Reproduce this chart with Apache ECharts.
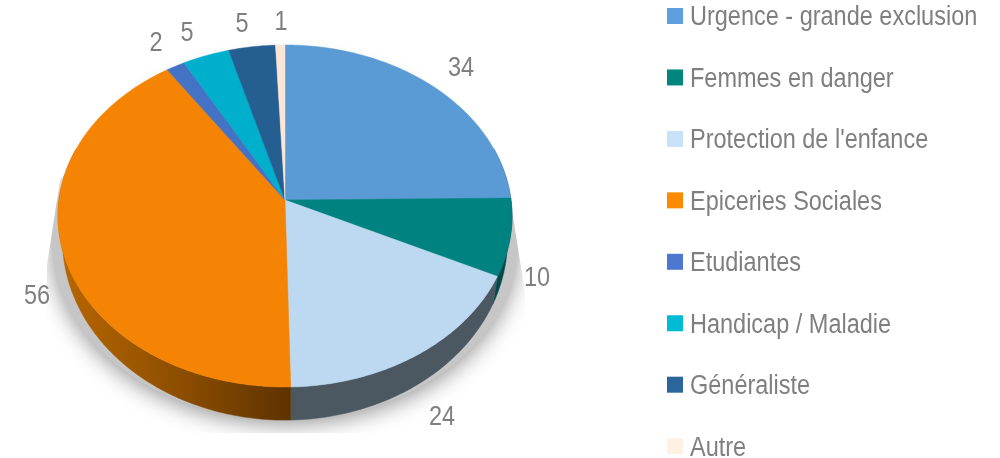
<!DOCTYPE html>
<html>
<head>
<meta charset="utf-8">
<style>html,body{margin:0;padding:0;background:#fff}#chart{width:1000px;height:458px}</style>
<script src="https://cdn.jsdelivr.net/npm/echarts@6/dist/echarts.min.js"></script>
</head>
<body>
<div id="chart"></div>
<script>
var categories = ['Urgence - grande exclusion', 'Femmes en danger', "Protection de l'enfance", 'Epiceries Sociales', 'Etudiantes', 'Handicap / Maladie', 'Généraliste', 'Autre'];
var values = [34, 10, 24, 56, 2, 5, 5, 1];

var sliceColors = ['#5B9BD5', '#008280', '#BDD9F1', '#F58405', '#4472C4', '#00AFCB', '#255E91', '#FBE5D6'];
var legendColors = ['#5F9FE0', '#00857F', '#C6E1F8', '#FB8A00', '#4C78D2', '#00BAD6', '#2A659C', '#FDF1E3'];
var wallColors = ['#2F5D85', '#004A4A', '#4B5862', null, '#2A4475', '#006B7C', '#16395A', '#998A80'];
var labelSpots = [[461, 69], [537, 279], [442, 418], [37, 297], [156, 44], [187, 34], [242, 25], [281, 23]];

var total = values.reduce(function (a, b) { return a + b; }, 0);
var FONT = '"Liberation Sans", Arial, sans-serif';
var SQUEEZE = 0.87; // the original text is a narrow face

// the tilted disc: a circle seen in perspective, apex is not the ellipse centre
var apexX = 285, apexY = 200, rimA = 226, rimB = 169.5, tilt = 0.0935;

function rim(t) {
    var u = Math.sin(t), v = Math.cos(t), d = 1 + tilt * v;
    return [apexX + rimA * u / d, apexY - rimB * v / d];
}
function lowRim(t) {
    var p = rim(t);
    return [apexX + 0.98 * (p[0] - apexX), apexY + 1.054 * (p[1] - apexY) + 23];
}
function shadowRim(t) {
    var p = lowRim(t);
    return [apexX + 1.05 * (p[0] - apexX), p[1]];
}
function arc(fn, t0, t1) {
    var pts = [], n = Math.max(2, Math.ceil((t1 - t0) * 60));
    for (var i = 0; i <= n; i++) pts.push(fn(t0 + (t1 - t0) * i / n));
    return pts;
}
function angleAt(i) {
    var s = 0;
    for (var k = 0; k < i; k++) s += values[k];
    return s / total * Math.PI * 2;
}
function squeezedText(str, x, y, align) {
    return {
        type: 'text', z2: 3, x: x, y: y, scaleX: SQUEEZE,
        style: {
            text: str, x: 0, y: 0, align: align, verticalAlign: 'middle',
            fill: '#7F7F7F', font: '27px ' + FONT
        }
    };
}

function renderSlice(params, api) {
    var i = params.seriesIndex;
    var t0 = angleAt(i);
    var t1 = t0 + api.value(0) / total * Math.PI * 2;
    var kids = [];

    // outer wall, only the front half shows
    var a = Math.max(t0, Math.PI * 0.4), b = Math.min(t1, Math.PI * 1.6);
    if (b > a) {
        var fill = wallColors[i] || new echarts.graphic.LinearGradient(60, 0, 291, 0, [
            {offset: 0, color: '#B86600'},
            {offset: 0.5, color: '#8E4F00'},
            {offset: 1, color: '#5E3200'}
        ], true);
        kids.push({
            type: 'polygon', z2: 1,
            shape: {points: arc(rim, a, b).concat(arc(lowRim, a, b).reverse())},
            style: {fill: fill, stroke: fill, lineWidth: 0.5}
        });
    }
    // top face
    kids.push({
        type: 'polygon', z2: 2,
        shape: {points: [[apexX, apexY]].concat(arc(rim, t0, t1))},
        style: {fill: sliceColors[i], stroke: sliceColors[i], lineWidth: 0.5}
    });
    kids.push(squeezedText(String(api.value(0)), labelSpots[i][0], labelSpots[i][1], 'center'));

    // legend row, squeezed text is not possible in the legend component
    var rowY = 16 + i * 61.45;
    kids.push({
        type: 'rect', z2: 3,
        shape: {x: 667, y: rowY - 8, width: 16, height: 16},
        style: {fill: legendColors[i]}
    });
    kids.push(squeezedText(categories[i], 690, rowY + 2, 'left'));
    return {type: 'group', children: kids};
}

var series = categories.map(function (name, i) {
    return {
        name: name,
        type: 'custom',
        coordinateSystem: 'none',
        silent: true,
        itemStyle: {color: legendColors[i]},
        renderItem: renderSlice,
        data: [[values[i]]]
    };
});

var myChart = echarts.init(document.getElementById('chart'));
var option = {
    animation: false,
    backgroundColor: '#fff',
    graphic: [{
        // soft shadow under the disc
        type: 'polygon', z: -2, silent: true,
        shape: {points: arc(shadowRim, 0, Math.PI * 2)},
        style: {fill: '#c6c6c6', shadowColor: 'rgba(0,0,0,0.42)', shadowBlur: 22, shadowOffsetY: 4}
    }, {
        // the shadow picture is cut off on its sides and bottom
        type: 'polygon', z: -1, silent: true,
        shape: {points: [[0, 0], [200, 0], [60, 180], [47, 265], [47, 433], [1000, 433], [1000, 458], [0, 458]]},
        style: {fill: '#fff'}
    }, {
        type: 'polygon', z: -1, silent: true,
        shape: {points: [[370, 0], [512, 210], [525, 293], [525, 458], [1000, 458], [1000, 0]]},
        style: {fill: '#fff'}
    }],
    series: series
};
myChart.setOption(option);

window.onresize = function () {
    myChart.resize();
};
</script>
</body>
</html>
